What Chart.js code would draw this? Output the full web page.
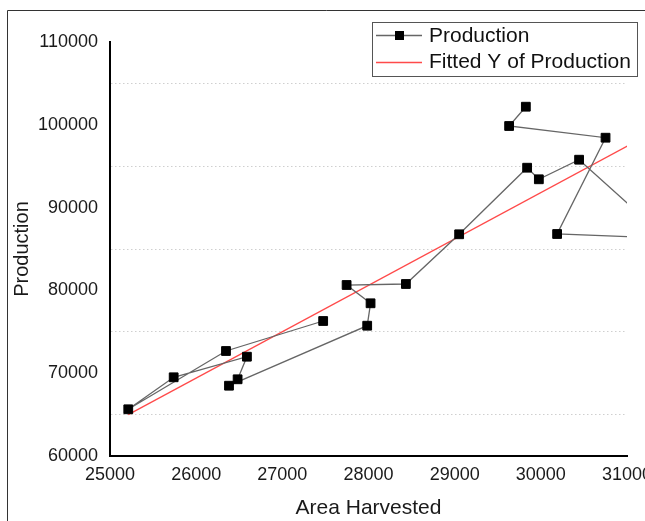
<!DOCTYPE html>
<html>
<head>
<meta charset="utf-8">
<script src="https://cdn.jsdelivr.net/npm/chart.js@4.4.0/dist/chart.umd.min.js"></script>
<style>
  html, body { margin: 0; padding: 0; background: #fff; }
</style>
</head>
<body>
<canvas id="canvas" width="645" height="521"></canvas>
<script>
// points in the order they are joined
const areaHarvested = [27474, 26346, 25212, 25739, 26589, 26481, 26381, 27985, 28024, 27746,
                       28434, 29052, 29841, 29977, 30444, 31450, 30189, 30751, 29632, 29826];
const production = [76304, 72681, 65640, 69505, 71993, 69263, 68490, 75737, 78442, 80652,
                    80773, 86775, 94819, 93418, 95785, 86330, 86812, 98442, 99855, 102186];

// fitted line, read at both ends
const fittedX = [25212, 31450];
const fittedY = [65000, 99940];

const xTicks = [25000, 26000, 27000, 28000, 29000, 30000, 31000];
const yTicks = [60000, 70000, 80000, 90000, 100000, 110000];

const FONT = "'Liberation Sans', Arial, sans-serif";

const prodPoints = areaHarvested.map(function(x, i){
    return {x: x, y: production[i]};
});
const fitPoints = fittedX.map(function(x, i){
    return {x: x, y: fittedY[i]};
});

// outer frame + legend box
const frameAndLegend = {
    id: 'frameAndLegend',
    beforeDraw(chart) {
        const ctx = chart.ctx;
        ctx.save();
        ctx.strokeStyle = '#333';
        ctx.lineWidth = 1;
        ctx.beginPath();
        ctx.moveTo(7.5, 521);
        ctx.lineTo(7.5, 10.5);
        ctx.lineTo(645, 10.5);
        ctx.stroke();
        ctx.restore();
    },
    afterDraw(chart) {
        const ctx = chart.ctx;
        ctx.save();
        ctx.fillStyle = '#fff';
        ctx.fillRect(372, 22, 266, 55);
        ctx.strokeStyle = '#555';
        ctx.lineWidth = 1;
        ctx.strokeRect(372.5, 22.5, 265, 54);

        // production sample
        ctx.strokeStyle = '#666';
        ctx.lineWidth = 1.3;
        ctx.beginPath();
        ctx.moveTo(376, 35.5);
        ctx.lineTo(422, 35.5);
        ctx.stroke();
        ctx.fillStyle = '#000';
        ctx.fillRect(395, 31, 9, 9);

        // fitted sample
        ctx.strokeStyle = '#ff4a4a';
        ctx.beginPath();
        ctx.moveTo(376, 62.5);
        ctx.lineTo(422, 62.5);
        ctx.stroke();

        ctx.fillStyle = '#111';
        ctx.font = '21px ' + FONT;
        ctx.textBaseline = 'middle';
        ctx.textAlign = 'left';
        ctx.fillText('Production', 429, 36);
        ctx.fillText('Fitted Y of Production', 429, 62);
        ctx.restore();
    }
};

const ctx = document.getElementById('canvas').getContext('2d');
const myChart = new Chart(ctx, {
    type: 'scatter',
    data: {
        datasets: [{
            label: 'Production',
            data: prodPoints,
            showLine: true,
            borderColor: '#666',
            borderWidth: 1.3,
            tension: 0,
            pointStyle: 'rect',
            pointRadius: 6.2,
            pointHoverRadius: 6.2,
            pointBackgroundColor: '#000',
            pointBorderColor: '#000',
            pointBorderWidth: 1,
            order: 1
        }, {
            label: 'Fitted Y of Production',
            data: fitPoints,
            showLine: true,
            borderColor: '#ff4a4a',
            borderWidth: 1.3,
            pointRadius: 0,
            pointHoverRadius: 0,
            order: 2
        }]
    },
    options: {
        responsive: false,
        animation: false,
        devicePixelRatio: 1,
        layout: {
            padding: {top: 42, right: 18, bottom: 0, left: 0}
        },
        plugins: {
            legend: {display: false},
            tooltip: {enabled: false}
        },
        scales: {
            x: {
                type: 'linear',
                min: 25000,
                max: 31000,
                afterBuildTicks: function(scale){
                    scale.ticks = xTicks.map(function(v){ return {value: v}; });
                },
                afterFit: function(scale){
                    scale.height = 65;
                    scale.paddingLeft = 0;
                    scale.paddingRight = 0;
                },
                grid: {display: false, drawTicks: false},
                border: {display: true, color: '#000', width: 2},
                ticks: {
                    color: '#1a1a1a',
                    font: {family: FONT, size: 18},
                    padding: 8,
                    maxRotation: 0,
                    autoSkip: false,
                    callback: function(v){ return String(v); }
                },
                title: {
                    display: true,
                    text: 'Area Harvested',
                    color: '#1a1a1a',
                    font: {family: FONT, size: 21},
                    padding: {top: 0, bottom: 0}
                }
            },
            y: {
                min: 60000,
                max: 110000,
                afterBuildTicks: function(scale){
                    // label ticks plus the dotted lines half way between them
                    const t = [];
                    yTicks.forEach(function(v, i){
                        t.push({value: v});
                        if (i < yTicks.length - 1) t.push({value: (v + yTicks[i + 1]) / 2});
                    });
                    scale.ticks = t;
                },
                afterFit: function(scale){
                    scale.width = 110;
                    scale.paddingTop = 0;
                    scale.paddingBottom = 0;
                },
                grid: {
                    drawTicks: false,
                    lineWidth: 1,
                    color: function(c){
                        if (c.tick && yTicks.indexOf(c.tick.value) < 0) return '#cfcfcf';
                        return 'rgba(0,0,0,0)';
                    }
                },
                border: {display: true, color: '#000', width: 2, dash: [1.5, 2.5]},
                ticks: {
                    color: '#1a1a1a',
                    font: {family: FONT, size: 18},
                    padding: 12,
                    autoSkip: false,
                    callback: function(v){
                        return yTicks.indexOf(v) >= 0 ? String(v) : '';
                    }
                },
                title: {
                    display: true,
                    text: 'Production',
                    color: '#1a1a1a',
                    font: {family: FONT, size: 20},
                    padding: {top: 10, bottom: 0}
                }
            }
        }
    },
    plugins: [frameAndLegend]
});
</script>
</body>
</html>
